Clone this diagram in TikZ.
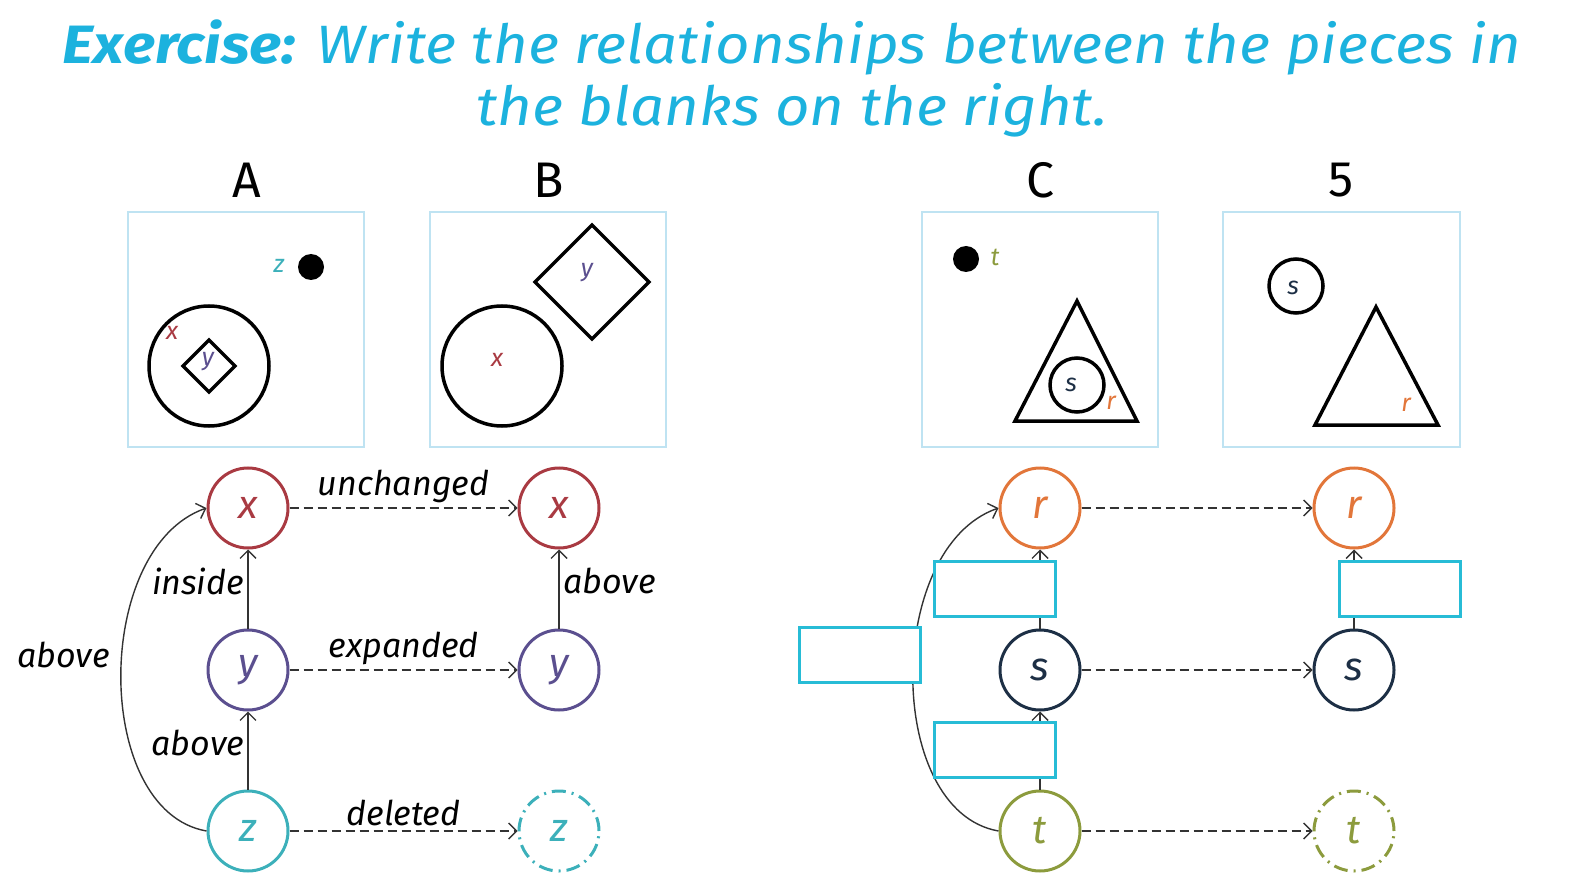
\documentclass[tikz,border=0pt]{standalone}
\usepackage{fontspec}
\setmainfont{Fira Sans}
\newfontfamily\hand{Fira Sans}
\usetikzlibrary{arrows.meta}
\definecolor{titlecol}{HTML}{1CB2DE}
\definecolor{framecol}{HTML}{BFE3F2}
\definecolor{blankcol}{HTML}{27BCD6}
\definecolor{linecol}{HTML}{333333}
\definecolor{xcol}{HTML}{A93A42}
\definecolor{ycol}{HTML}{5B4F8F}
\definecolor{zcol}{HTML}{3CB0BA}
\definecolor{rcol}{HTML}{E2763A}
\definecolor{scol}{HTML}{1D2F45}
\definecolor{tcol}{HTML}{8C9B3D}
\begin{document}
\begin{tikzpicture}[x=1pt,y=-1pt,
  frame/.style={draw=framecol, line width=2pt},
  shp/.style={draw=black, line width=3.5pt, line join=miter},
  heading/.style={font=\fontsize{50}{50}\selectfont},
  tag/.style={font=\hand\itshape\fontsize{25}{25}\selectfont},
  titletext/.style={anchor=base, text=titlecol, font=\hand\itshape\fontsize{54}{54}\selectfont},
  gnode/.style={circle, draw, line width=3pt, minimum size=80pt, inner sep=0pt,
    font=\hand\itshape\fontsize{40}{40}\selectfont},
  ghost/.style={gnode, dash pattern=on 14pt off 6pt on 2pt off 6pt},
  rel/.style={draw=linecol, line width=1.4pt, -{Straight Barb[length=8pt,width=16pt]}},
  chg/.style={rel, dash pattern=on 9pt off 5pt},
  lab/.style={font=\hand\itshape\fontsize{34}{34}\selectfont, text=black},
  blank/.style={draw=blankcol, fill=white, line width=2.5pt, minimum width=121pt,
    minimum height=55pt, inner sep=0pt}]
\useasboundingbox (0,0) rectangle (1584,882);

% title
\node[titletext] (t1) at (792,64)
  {\scalebox{1.11}[1]{\textbf{Exercise:} Write the relationships between the pieces in}};
\node[titletext] (t2) at (792,126)
  {\scalebox{1.11}[1]{the blanks on the right.}};

% headings
\node[heading] (hA) at (247,180) {A};
\node[heading] (hB) at (549,180) {B};
\node[heading] (hC) at (1040,180) {C};
\node[heading] (h5) at (1341,180) {5};

% frames
\draw[frame] (128,212) rectangle (364,447);
\draw[frame] (430,212) rectangle (666,447);
\draw[frame] (922,212) rectangle (1158,447);
\draw[frame] (1223,212) rectangle (1460,447);

% frame A
\draw[shp] (209,366) circle (60);
\draw[shp] (209,340) -- (235,366) -- (209,392) -- (183,366) -- cycle;
\fill (311,267) circle (13);
\node[tag, text=xcol] at (172,333) {x};
\node[tag, text=ycol] at (208,362) {y};
\node[tag, text=zcol] at (279,266) {z};

% frame B
\draw[shp] (502,366) circle (60);
\draw[shp] (592,225) -- (649,282) -- (592,339) -- (535,282) -- cycle;
\node[tag, text=xcol] at (497,360) {x};
\node[tag, text=ycol] at (587,273) {y};

% frame C
\fill (966,259) circle (13);
\node[tag, text=tcol] at (995,257) {t};
\draw[shp] (1077,301) -- (1137,421) -- (1015,421) -- cycle;
\draw[shp] (1077,385) circle (27);
\node[tag, text=scol] at (1071,385) {s};
\node[tag, text=rcol] at (1111,403) {r};

% frame 5
\draw[shp] (1296,286) circle (27);
\node[tag, text=scol] at (1293,288) {s};
\draw[shp] (1376,307) -- (1438,425) -- (1315,425) -- cycle;
\node[tag, text=rcol] at (1406,405) {r};

% left graph
\node[gnode, draw=xcol, text=xcol] (x1) at (248,508) {x};
\node[gnode, draw=ycol, text=ycol] (y1) at (248,670) {y};
\node[gnode, draw=zcol, text=zcol] (z1) at (248,831) {z};
\node[gnode, draw=xcol, text=xcol] (x2) at (559,508) {x};
\node[gnode, draw=ycol, text=ycol] (y2) at (559,670) {y};
\node[ghost, draw=zcol, text=zcol] (z2) at (559,831) {z};

\draw[chg] (x1) -- node[lab, above=1pt] {unchanged} (x2);
\draw[chg] (y1) -- node[lab, above=1pt] {expanded} (y2);
\draw[chg] (z1) -- node[lab, above=1pt] {deleted} (z2);
\draw[rel] (y1) -- node[lab, left=0pt, pos=0.6] {inside} (x1);
\draw[rel] (z1) -- node[lab, left=0pt, pos=0.6] {above} (y1);
\draw[rel] (y2) -- node[lab, right=0pt, pos=0.6] {above} (x2);
\draw[rel] (z1.west) .. controls +(-114,-20) and +(-114,40) .. node[lab, left=8pt, pos=0.55] {above} (x1.west);

% right graph
\node[gnode, draw=rcol, text=rcol] (r1) at (1040,508) {r};
\node[gnode, draw=scol, text=scol] (s1) at (1040,670) {s};
\node[gnode, draw=tcol, text=tcol] (u1) at (1040,831) {t};
\node[gnode, draw=rcol, text=rcol] (r2) at (1354,508) {r};
\node[gnode, draw=scol, text=scol] (s2) at (1354,670) {s};
\node[ghost, draw=tcol, text=tcol] (u2) at (1354,831) {t};

\draw[chg] (r1) -- (r2);
\draw[chg] (s1) -- (s2);
\draw[chg] (u1) -- (u2);
\draw[rel] (s1) -- (r1);
\draw[rel] (u1) -- (s1);
\draw[rel] (s2) -- (r2);
\draw[rel] (u1.west) .. controls +(-114,-20) and +(-114,40) .. (r1.west);

% blanks
\node[blank] (b1) at (995,589) {};
\node[blank] (b2) at (995,750) {};
\node[blank] (b3) at (860,655) {};
\node[blank] (b4) at (1400,589) {};
\end{tikzpicture}
\end{document}
